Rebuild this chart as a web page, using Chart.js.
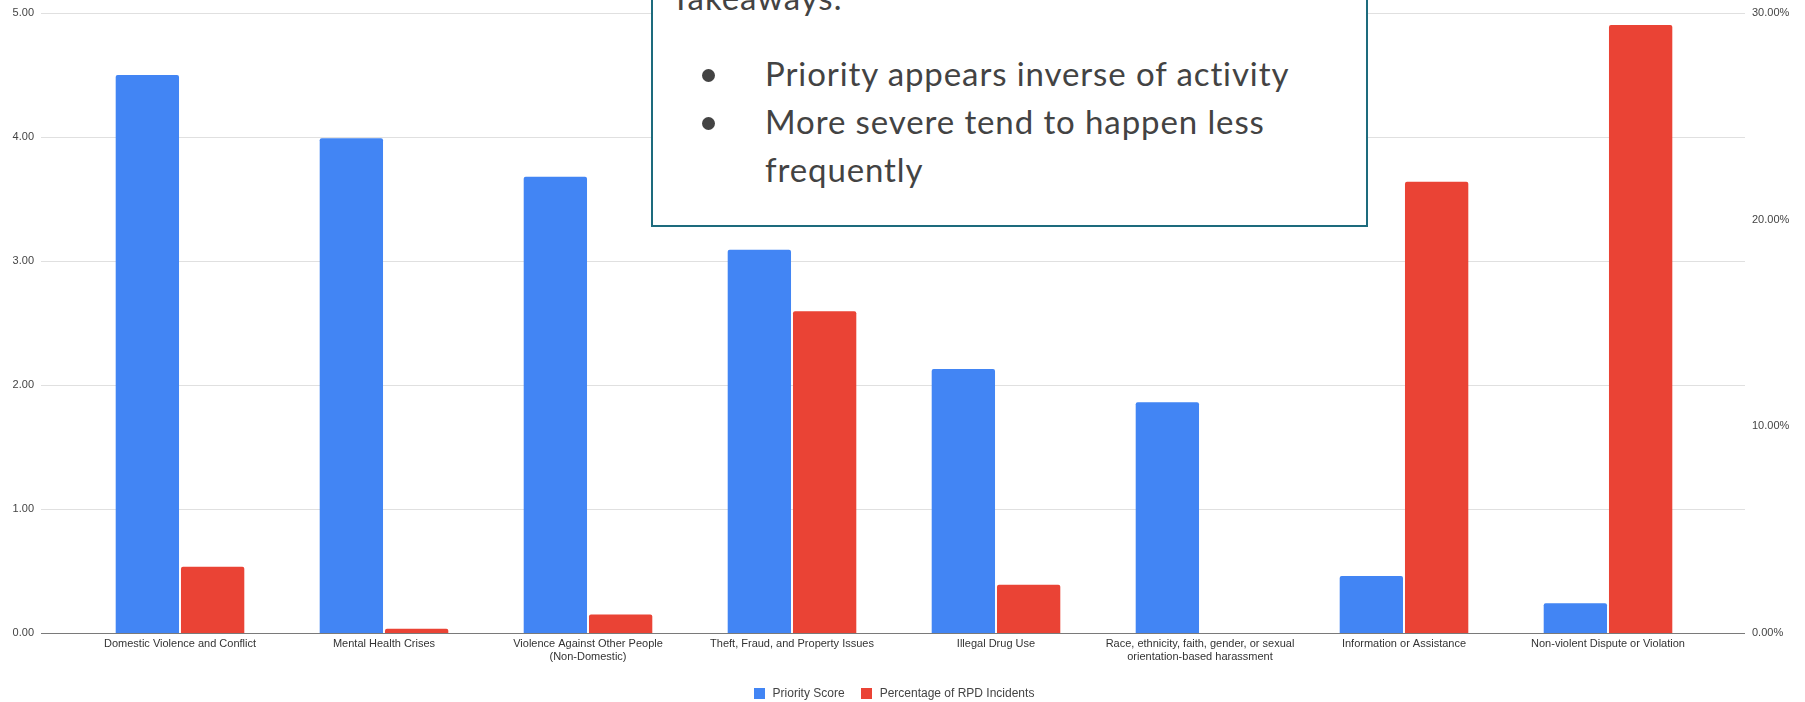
<!DOCTYPE html>
<html>
<head>
<meta charset="utf-8">
<script src="https://cdn.jsdelivr.net/npm/chart.js@4/dist/chart.umd.min.js"></script>
<style>
  html, body { margin: 0; padding: 0; background: #fff; overflow: hidden; }
  #wrap { position: relative; width: 1805px; height: 702px; }
  #c { position: absolute; left: 0; top: 0; }
  #box {
    position: absolute; left: 651px; top: -60px; width: 713px; height: 283px;
    border: 2px solid #1d6b7d; background: #fff; box-sizing: content-box;
    font-family: Lato, "Open Sans", sans-serif; color: #434343;
  }
  .ln { position: absolute; font-size: 33px; line-height: 48px; letter-spacing: 0.9px; white-space: nowrap; }
  .dot { position: absolute; width: 13px; height: 13px; border-radius: 50%; background: #434343; }
  #legend {
    position: absolute; left: 0; width: 1788px; top: 686px; display: flex; justify-content: center;
    font-family: "Liberation Sans", Arial, sans-serif; font-size: 12px; color: #444;
  }
  .li { display: flex; align-items: center; margin: 0 8px; }
  .sw { width: 11px; height: 11px; margin-right: 8px; }
</style>
</head>
<body>
<div id="wrap">
  <canvas id="c" width="1805" height="702"></canvas>
  <div id="box">
    <div class="ln" style="left:18px; top:31px;">Takeaways:</div>
    <div class="dot" style="left:49px; top:127px;"></div>
    <div class="ln" style="left:112px; top:107px;">Priority appears inverse of activity</div>
    <div class="dot" style="left:49px; top:175px;"></div>
    <div class="ln" style="left:112px; top:155px;">More severe tend to happen less</div>
    <div class="ln" style="left:112px; top:203px;">frequently</div>
  </div>
  <div id="legend"></div>
</div>
<script>
const categories = [
  "Domestic Violence and Conflict",
  "Mental Health Crises",
  ["Violence Against Other People", "(Non-Domestic)"],
  "Theft, Fraud, and Property Issues",
  "Illegal Drug Use",
  ["Race, ethnicity, faith, gender, or sexual", "orientation-based harassment"],
  "Information or Assistance",
  "Non-violent Dispute or Violation"
];
const seriesNames = ["Priority Score", "Percentage of RPD Incidents"];
const priorityScore = [4.50, 3.99, 3.68, 3.09, 2.13, 1.86, 0.46, 0.24];
const rpdPercent = [3.21, 0.20, 0.89, 15.57, 2.34, 0, 21.84, 29.42];
const leftTickValues = [0, 1, 2, 3, 4, 5];
const leftTickLabels = ["0.00", "1.00", "2.00", "3.00", "4.00", "5.00"];
const rightTickValues = [0, 10, 20, 30];
const rightTickLabels = ["0.00%", "10.00%", "20.00%", "30.00%"];
const colors = ["#4285F4", "#EA4335"];

const extGrid = {
  id: 'extGrid',
  beforeDatasetsDraw(chart) {
    const { ctx, chartArea, scales } = chart;
    const y = scales.y;
    const x0 = chartArea.left - 37, x1 = chartArea.right + 35;
    ctx.save();
    ctx.lineWidth = 1;
    y.ticks.forEach(t => {
      if (t.value === 0) return;
      const py = Math.round(y.getPixelForValue(t.value)) + 0.5;
      ctx.strokeStyle = '#e0e0e0';
      ctx.beginPath(); ctx.moveTo(x0, py); ctx.lineTo(x1, py); ctx.stroke();
    });
    ctx.restore();
  },
  afterDatasetsDraw(chart) {
    const { ctx, chartArea, scales } = chart;
    const y = scales.y;
    const x0 = chartArea.left - 37, x1 = chartArea.right + 35;
    const py = Math.round(y.getPixelForValue(0)) + 0.5;
    ctx.save();
    ctx.strokeStyle = '#7a7a7a'; ctx.lineWidth = 1;
    ctx.beginPath(); ctx.moveTo(x0, py); ctx.lineTo(x1, py); ctx.stroke();
    ctx.restore();
  }
};

const tickFont = { family: "'Liberation Sans', Arial, sans-serif", size: 11 };

const chart = new Chart(document.getElementById('c'), {
  type: 'bar',
  data: {
    labels: categories,
    datasets: [
      { label: seriesNames[0], data: priorityScore, backgroundColor: colors[0], yAxisID: 'y',
        borderRadius: { topLeft: 2, topRight: 2 }, borderSkipped: 'bottom' },
      { label: seriesNames[1], data: rpdPercent, backgroundColor: colors[1], yAxisID: 'y1',
        borderRadius: { topLeft: 2, topRight: 2 }, borderSkipped: 'bottom' }
    ]
  },
  options: {
    responsive: false,
    animation: false,
    devicePixelRatio: 1,
    layout: { padding: { top: 13, left: 0, right: 0, bottom: 0 } },
    datasets: { bar: { categoryPercentage: 0.64, barPercentage: 0.97 } },
    plugins: { legend: { display: false }, tooltip: { enabled: false } },
    scales: {
      x: {
        grid: { display: false, drawTicks: false },
        border: { display: false },
        ticks: { font: tickFont, color: '#333', padding: 4, autoSkip: false, maxRotation: 0, minRotation: 0 },
        afterFit: s => { s.height = 69; s.paddingLeft = 0; s.paddingRight = 0; }
      },
      y: {
        position: 'left', min: 0, max: 5,
        grid: { display: false, drawTicks: false },
        border: { display: false },
        afterBuildTicks: s => { s.ticks = leftTickValues.map(v => ({ value: v })); },
        ticks: { font: tickFont, color: '#444', padding: 44,
          callback: (v) => leftTickLabels[leftTickValues.indexOf(v)] },
        afterFit: s => { s.width = 78; s.paddingTop = 0; s.paddingBottom = 0; }
      },
      y1: {
        position: 'right', min: 0, max: 30,
        grid: { display: false, drawTicks: false },
        border: { display: false },
        afterBuildTicks: s => { s.ticks = rightTickValues.map(v => ({ value: v })); },
        ticks: { font: tickFont, color: '#444', padding: 42,
          callback: (v) => rightTickLabels[rightTickValues.indexOf(v)] },
        afterFit: s => { s.width = 95; s.paddingTop = 0; s.paddingBottom = 0; }
      }
    }
  },
  plugins: [extGrid]
});

const legend = document.getElementById('legend');
chart.data.datasets.forEach(ds => {
  const item = document.createElement('div'); item.className = 'li';
  const sw = document.createElement('div'); sw.className = 'sw'; sw.style.background = ds.backgroundColor;
  const tx = document.createElement('span'); tx.textContent = ds.label;
  item.appendChild(sw); item.appendChild(tx); legend.appendChild(item);
});
</script>
</body>
</html>
